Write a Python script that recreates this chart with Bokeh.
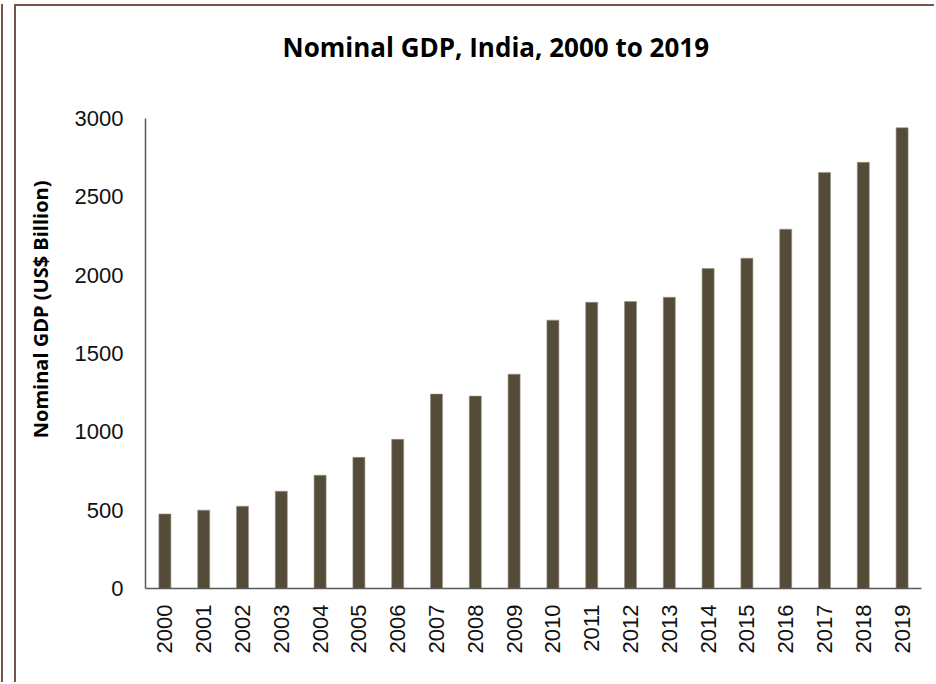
from bokeh.plotting import figure
from bokeh.models import Range1d, FixedTicker
from bokeh.embed import file_html
from bokeh.resources import INLINE

years = ["2000", "2001", "2002", "2003", "2004", "2005", "2006", "2007", "2008", "2009",
         "2010", "2011", "2012", "2013", "2014", "2015", "2016", "2017", "2018", "2019"]
gdp = [476, 500, 525, 621, 723, 837, 952, 1241, 1228, 1368,
       1713, 1827, 1832, 1859, 2042, 2108, 2293, 2656, 2720, 2941]
y_ticks = [0, 500, 1000, 1500, 2000, 2500, 3000]
title_text = "Nominal GDP, India, 2000 to 2019"
y_label = "Nominal GDP (US$ Billion)"

p = figure(x_range=years, y_range=Range1d(0, 3000), width=920, height=678,
           output_backend="svg", toolbar_location=None,
           min_border_left=129, min_border_right=15, min_border_top=112, min_border_bottom=96)

p.styles = {
    "margin-left": "14px",
    "margin-top": "4px",
    "border-left": "2px solid #73554b",
    "border-top": "2px solid #73554b",
    "box-shadow": "-11px 0 0 0 #ffffff, -13px 0 0 0 #73554b",
}

p.vbar(x=years, top=gdp, width=0.31, fill_color="#544c38", line_color="#9a9486", line_width=0.6)

# second (blank) line lifts the title towards the top of the chart area
p.title.text = title_text + "\n\u00a0"
p.title.align = "left"
p.title.offset = 137
p.title.vertical_align = "bottom"
p.title.standoff = 36
p.title.text_font = "Open Sans"
p.title.text_font_style = "bold"
p.title.text_font_size = "26px"
p.title.text_color = "#000000"

p.xgrid.visible = False
p.ygrid.visible = False
p.outline_line_color = None

for ax in (p.xaxis[0], p.yaxis[0]):
    ax.axis_line_color = "#595959"
    ax.axis_line_width = 1.5
    ax.major_tick_line_color = None
    ax.minor_tick_line_color = None
    ax.major_tick_out = 0
    ax.major_tick_in = 0
    ax.major_label_text_font = "Liberation Sans"
    ax.major_label_text_font_size = "22px"
    ax.major_label_text_color = "#111111"

p.yaxis.ticker = FixedTicker(ticks=y_ticks)
p.yaxis.major_label_standoff = 22
p.yaxis.axis_label = "\u00a0" * 17 + y_label
p.yaxis.axis_label_text_font = "Open Sans"
p.yaxis.axis_label_text_font_style = "bold"
p.yaxis.axis_label_text_font_size = "20px"
p.yaxis.axis_label_text_color = "#000000"
p.yaxis.axis_label_standoff = 18

p.xaxis.major_label_orientation = 1.5708
p.xaxis.major_label_standoff = 16

open("out.html", "w").write(file_html(p, INLINE))
